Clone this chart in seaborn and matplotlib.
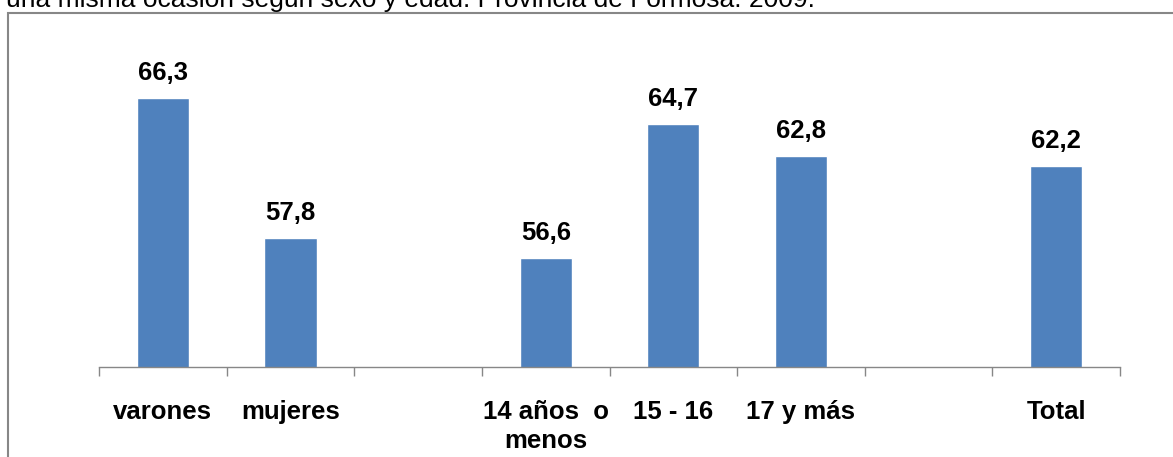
import numpy as np
import pandas as pd
import matplotlib
matplotlib.use("Agg")
import matplotlib.pyplot as plt
from matplotlib.patches import Rectangle
import seaborn as sns

# --- data ---
categories = ["varones", "mujeres", "14 años  o\nmenos", "15 - 16", "17 y más", "Total"]
values = [66.3, 57.8, 56.6, 64.7, 62.8, 62.2]
# slot order, blank slots separate the groups
order = ["varones", "mujeres", " ", "14 años  o\nmenos", "15 - 16", "17 y más", "  ", "Total"]
title_text = "una misma ocasión según sexo y edad. Provincia de Formosa. 2009."

BAR_COLOR = "#4F81BD"
GRAY = "#878787"

sns.set_style("white")
plt.rcParams['font.family'] = ['Liberation Sans', 'DejaVu Sans']
plt.rcParams['text.color'] = 'black'
plt.rcParams['xtick.color'] = GRAY
plt.rcParams['xtick.labelcolor'] = 'black'

df = pd.DataFrame({"cat": categories, "val": values})

fig = plt.figure(figsize=(11.73, 4.57), dpi=100)
ax = fig.add_axes([99 / 1173, 90 / 457, (1120 - 99) / 1173, (367 - 37) / 457])

sns.barplot(data=df, x="cat", y="val", order=order, color=BAR_COLOR,
            width=0.41, saturation=1, ax=ax, errorbar=None)

ax.set_ylim(50, 70)
ax.set_xlim(-0.5, len(order) - 0.5)
ax.set_xlabel("")
ax.set_ylabel("")
ax.set_yticks([])

for side in ["top", "right", "left"]:
    ax.spines[side].set_visible(False)
ax.spines["bottom"].set_color(GRAY)
ax.spines["bottom"].set_linewidth(1.0)

# ticks between slots, labels centred in slots
ax.set_xticks(np.arange(-0.5, len(order)), labels=[])
ax.tick_params(axis="x", which="major", bottom=True, length=6.5, width=1,
               color=GRAY, direction="out")
ax.set_xticks(np.arange(len(order)), labels=order, minor=True)
ax.tick_params(axis="x", which="minor", bottom=True, length=0, pad=24)
for lbl in ax.get_xticklabels(minor=True):
    lbl.set_fontsize(18.5)
    lbl.set_fontweight("bold")
    lbl.set_color("black")
    lbl.set_linespacing(1.22)

# value labels
for p in ax.patches:
    h = p.get_height()
    if np.isnan(h):
        continue
    ax.annotate(f"{h:.1f}".replace(".", ","),
                (p.get_x() + p.get_width() / 2, h),
                xytext=(0, 13), textcoords="offset points",
                ha="center", va="baseline", fontsize=18.5, fontweight="bold",
                color="black")

# outer frame (only left and top edges visible in the crop)
fig.patches.append(Rectangle((7.5 / 1173, -0.1), 2, (457 - 13) / 457 + 0.1,
                             transform=fig.transFigure, fill=False,
                             edgecolor=GRAY, lw=1.5))

# clipped title line at the very top
fig.text(6 / 1173, 1 - 7 / 457, title_text, ha="left", va="baseline",
         fontsize=19, color="black")

fig.savefig("out.png", dpi=100)
